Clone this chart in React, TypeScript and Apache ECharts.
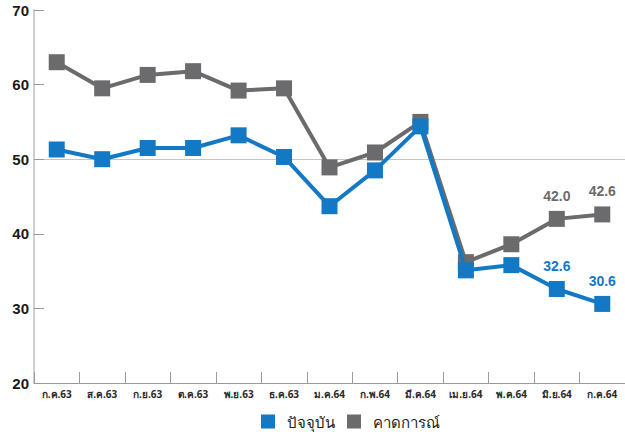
import React, { useEffect, useRef } from "react";
import * as echarts from "echarts";

const categories = ["ก.ค.63", "ส.ค.63", "ก.ย.63", "ต.ค.63", "พ.ย.63", "ธ.ค.63", "ม.ค.64", "ก.พ.64", "มี.ค.64", "เม.ย.64", "พ.ค.64", "มิ.ย.64", "ก.ค.64"];
const currentValues = [51.3, 50.0, 51.5, 51.5, 53.2, 50.3, 43.7, 48.5, 54.4, 35.1, 35.8, 32.6, 30.6];
const forecastValues = [63.0, 59.5, 61.3, 61.8, 59.2, 59.5, 48.9, 50.9, 55.0, 36.2, 38.6, 42.0, 42.6];
const seriesNames = ["ปัจจุบัน", "คาดการณ์"];
const labelFrom = 11;

const BLUE = "#1479c4";
const GRAY = "#6b6b6d";
const FONT = "'Noto Sans', 'DejaVu Sans', sans-serif";

export default function App() {
  const ref = useRef<HTMLDivElement>(null);
  useEffect(() => {
    if (!ref.current) return;
    const chart = echarts.init(ref.current, undefined, { renderer: "svg" });
    const mkLabel = (color: string) => ({
      show: true,
      position: "top",
      distance: 8,
      color,
      fontSize: 14,
      fontWeight: "bold",
      fontFamily: "'Liberation Sans', Arial, sans-serif",
      formatter: (p: any) => (p.dataIndex >= labelFrom ? Number(p.value).toFixed(1) : ""),
    });
    chart.setOption({
      animation: false,
      backgroundColor: "#ffffff",
      grid: { left: 34, right: 0, top: 10, bottom: 49 },
      legend: {
        top: 409,
        left: 256,
        icon: "rect",
        itemWidth: 14,
        itemHeight: 14,
        itemGap: 12,
        textStyle: { fontSize: 15, color: "#222", fontFamily: FONT, padding: [0, 0, 0, 7] },
        data: seriesNames,
      },
      xAxis: {
        type: "category",
        data: categories,
        boundaryGap: true,
        axisLine: { lineStyle: { color: "#9a9a9a", width: 1 } },
        axisTick: { show: true, inside: true, length: 11, interval: 0, lineStyle: { color: "#9a9a9a" } },
        axisLabel: { color: "#2a2a2a", fontSize: 10, fontWeight: "bold", fontFamily: FONT, margin: 6, interval: 0 },
      },
      yAxis: {
        type: "value",
        min: 20,
        max: 70,
        interval: 10,
        axisLine: { show: true, lineStyle: { color: "#cfcfcf", width: 2 } },
        axisTick: { show: true, inside: true, length: 10, lineStyle: { color: "#9a9a9a" } },
        axisLabel: { color: "#1a1a1a", fontSize: 15, fontWeight: "bold", fontFamily: "'Liberation Sans', Arial, sans-serif", margin: 5 },
        splitLine: {
          show: true,
          lineStyle: { color: ["transparent", "transparent", "transparent", "#c4c4c4", "transparent", "transparent"], width: 1 },
        },
      },
      series: [
        {
          name: seriesNames[0],
          type: "line",
          data: currentValues,
          symbol: "rect",
          symbolSize: 16,
          z: 3,
          itemStyle: { color: BLUE },
          lineStyle: { color: BLUE, width: 4 },
          label: mkLabel(BLUE),
        },
        {
          name: seriesNames[1],
          type: "line",
          data: forecastValues,
          symbol: "rect",
          symbolSize: 16,
          z: 2,
          itemStyle: { color: GRAY },
          lineStyle: { color: GRAY, width: 4 },
          label: mkLabel(GRAY),
        },
      ],
    });
    return () => chart.dispose();
  }, []);
  return <div ref={ref} style={{ width: 625, height: 432, position: "absolute", left: 0, top: 0 }} />;
}
